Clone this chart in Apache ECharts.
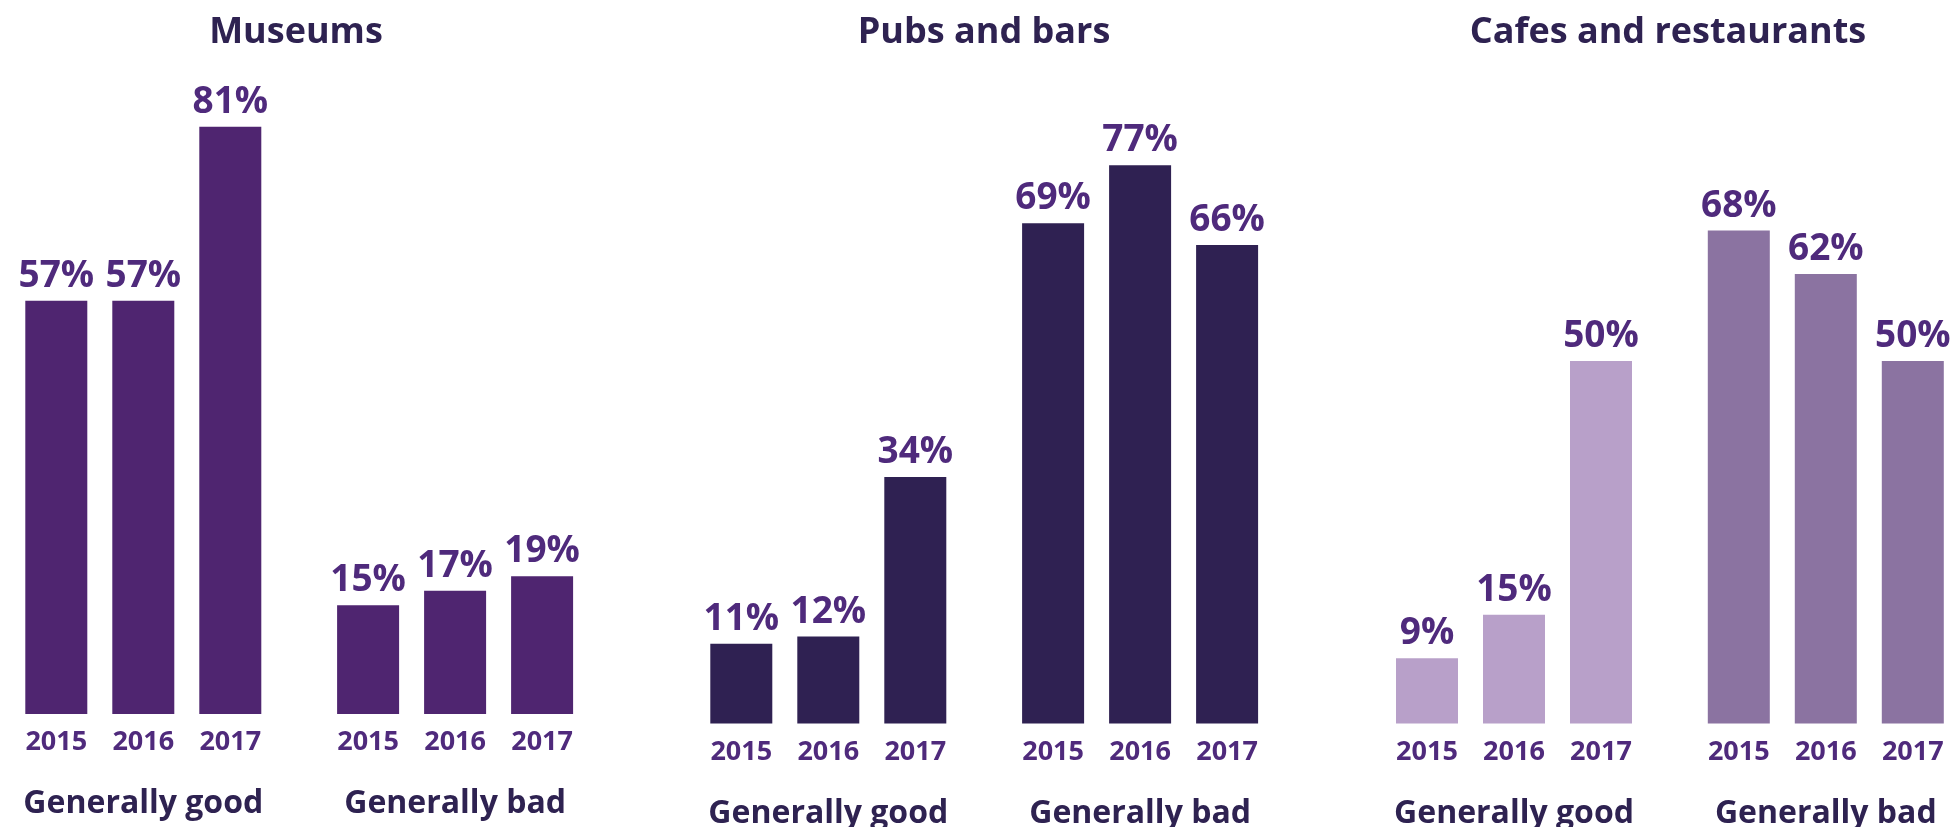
<!DOCTYPE html>
<html>
<head>
<meta charset="utf-8">
<script src="https://cdn.jsdelivr.net/npm/echarts@6/dist/echarts.min.js"></script>
<style>
html,body{margin:0;padding:0;background:#fff;}
#chart{width:1953px;height:827px;}
</style>
</head>
<body>
<div id="chart"></div>
<script>
const panelTitles = ['Museums', 'Pubs and bars', 'Cafes and restaurants'];
const groupLabels = ['Generally good', 'Generally bad'];
const years = ['2015', '2016', '2017'];

const museumsGood = [57, 57, 81];
const museumsBad = [15, 17, 19];
const pubsGood = [11, 12, 34];
const pubsBad = [69, 77, 66];
const cafesGood = [9, 15, 50];
const cafesBad = [68, 62, 50];

const panelData = [[museumsGood, museumsBad], [pubsGood, pubsBad], [cafesGood, cafesBad]];
const panelColors = [['#4f2570', '#4f2570'], ['#2f2152', '#2f2152'], ['#b8a0c9', '#8b73a1']];

const FONT = '"Open Sans", "Noto Sans", sans-serif';
const DARK = '#2e2251';
const PURPLE = '#4f2a7c';

const panelLeft = [12.8, 697.8, 1383.5];
const titleCenters = [296, 984, 1668];
const groupOffset = 311.8;
const gridWidth = 261;
const yMax = 90;
const pxPerUnit = 7.25;
const gridHeight = yMax * pxPerUnit;
const baselines = [714, 723.5, 723.5];

const grids = [], xAxes = [], yAxes = [], series = [], titles = [];
let idx = 0;
for (let p = 0; p < 3; p++) {
  titles.push({
    text: panelTitles[p],
    left: titleCenters[p],
    top: 15,
    padding: 0,
    textAlign: 'center',
    textStyle: { fontFamily: FONT, fontWeight: 'bold', fontSize: 36, color: DARK }
  });
  for (let g = 0; g < 2; g++) {
    grids.push({
      left: panelLeft[p] + g * groupOffset,
      top: baselines[p] - gridHeight,
      width: gridWidth,
      height: gridHeight,
      containLabel: false,
      outerBoundsMode: 'none'
    });
    xAxes.push({
      type: 'category', gridIndex: idx, data: years,
      axisLine: { show: false }, axisTick: { show: false },
      axisLabel: { fontFamily: FONT, fontWeight: 'bold', fontSize: 27, color: PURPLE, margin: 15 },
      name: groupLabels[g], nameLocation: 'middle', nameGap: 74,
      nameTextStyle: { fontFamily: FONT, fontWeight: 'bold', fontSize: 32, color: DARK }
    });
    yAxes.push({
      type: 'value', gridIndex: idx, min: 0, max: yMax, show: false,
      splitLine: { show: false }
    });
    series.push({
      type: 'bar', xAxisIndex: idx, yAxisIndex: idx,
      data: panelData[p][g], barWidth: 62,
      itemStyle: { color: panelColors[p][g] },
      label: {
        show: true, position: 'top', distance: 6,
        formatter: '{c}%',
        fontFamily: FONT, fontWeight: 'bold', fontSize: 37, color: PURPLE
      },
      animation: false
    });
    idx++;
  }
}

const chart = echarts.init(document.getElementById('chart'));
chart.setOption({
  animation: false,
  title: titles,
  grid: grids,
  xAxis: xAxes,
  yAxis: yAxes,
  series: series
});
</script>
</body>
</html>
